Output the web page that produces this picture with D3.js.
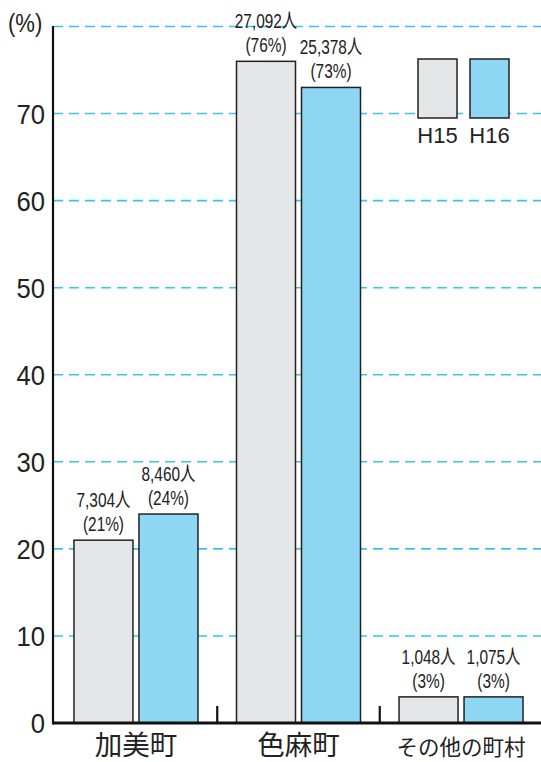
<!DOCTYPE html>
<html><head><meta charset="utf-8">
<script src="https://cdn.jsdelivr.net/npm/d3@7"></script>
<style>body{margin:0;background:#fff}svg{display:block}</style>
</head><body><svg id="c" width="541" height="762"></svg>
<script>
const categories = ["加美町", "色麻町", "その他の町村"];
const series = ["H15", "H16"];
const h15Values = [21, 76, 3];
const h16Values = [24, 73, 3];
const h15People = ["7,304人", "27,092人", "1,048人"];
const h16People = ["8,460人", "25,378人", "1,075人"];
const yTicks = [0, 10, 20, 30, 40, 50, 60, 70];
const gridTicks = [10, 20, 30, 40, 50, 60, 70, 80];

const colors = ["#e5e6e8", "#8dd7f5"];
const svg = d3.select("#c");
const W = 541;
const x0 = 53, yBase = 723;
const y = d3.scaleLinear().domain([0, 80]).range([yBase, 26.5]);
const x = d3.scaleBand().domain(categories).range([53, 544]).paddingInner(0.237).paddingOuter(0.129);
const xs = d3.scaleBand().domain(series).range([0, x.bandwidth()]).paddingInner(0.0923);
const latin = "Liberation Sans, Arial, sans-serif";

// gridlines
svg.append("g").selectAll("line").data(gridTicks).join("line")
  .attr("x1", x0).attr("x2", W).attr("y1", d => y(d)).attr("y2", d => y(d))
  .attr("stroke", "#3cc3ea").attr("stroke-width", 1.6).attr("stroke-dasharray", "10,6");

// y tick labels
svg.append("g").selectAll("text").data(yTicks).join("text")
  .attr("transform", d => `translate(45,${y(d) + 10}) scale(0.95,1)`)
  .attr("text-anchor", "end")
  .attr("font-family", latin).attr("font-size", 27).attr("fill", "#222")
  .text(d => d);
svg.append("text").attr("transform", "translate(8,31.5) scale(0.85,1)")
  .attr("font-family", latin).attr("font-size", 26).attr("fill", "#222").text("(%)");

const data = categories.map((c, i) => ({c, vals: [h15Values[i], h16Values[i]], ppl: [h15People[i], h16People[i]]}));
const groups = svg.append("g").selectAll("g").data(data).join("g")
  .attr("transform", d => `translate(${x(d.c)},0)`);
groups.selectAll("rect").data(d => d.vals.map((v, j) => ({v, s: series[j], j}))).join("rect")
  .attr("x", d => xs(d.s)).attr("width", xs.bandwidth())
  .attr("y", d => y(d.v)).attr("height", d => yBase - y(d.v))
  .attr("fill", d => colors[d.j]).attr("stroke", "#222").attr("stroke-width", 1.5);

const lab = groups.selectAll("g.lab").data(d => d.vals.map((v, j) => ({v, s: series[j], p: d.ppl[j]}))).join("g")
  .attr("class", "lab")
  .attr("transform", d => `translate(${xs(d.s) + xs.bandwidth() / 2},${y(d.v)}) scale(0.77,1)`);
lab.append("text").attr("y", -33).text(d => d.p);
lab.append("text").attr("y", -9).text(d => `(${d.v}%)`);
lab.selectAll("text").attr("text-anchor", "middle").attr("font-family", "Liberation Sans, Noto Sans CJK JP, sans-serif")
  .attr("font-size", 20).attr("fill", "#222");

// axes lines
svg.append("line").attr("x1", x0).attr("x2", x0).attr("y1", 26).attr("y2", yBase + 1.5)
  .attr("stroke", "#111").attr("stroke-width", 2.2);
svg.append("line").attr("x1", x0).attr("x2", W).attr("y1", yBase).attr("y2", yBase)
  .attr("stroke", "#111").attr("stroke-width", 3);
// separators between groups
const seps = categories.slice(0, -1).map((c, i) => (x(c) + x.bandwidth() + x(categories[i + 1])) / 2);
svg.append("g").selectAll("line").data(seps).join("line")
  .attr("x1", d => d).attr("x2", d => d).attr("y1", yBase - 17).attr("y2", yBase)
  .attr("stroke", "#111").attr("stroke-width", 2.2);

// category labels
svg.append("g").selectAll("text").data(categories).join("text")
  .attr("x", d => x(d) + x.bandwidth() / 2).attr("y", 755)
  .attr("text-anchor", "middle").attr("font-family", "Noto Sans CJK JP, sans-serif")
  .attr("font-size", (d, i) => i < 2 ? 27.5 : 21.5).attr("fill", "#222").text(d => d);

// legend
const leg = svg.append("g");
const lx = [418, 470];
series.forEach((s, j) => {
  leg.append("rect").attr("x", lx[j]).attr("y", 59).attr("width", 39).attr("height", 59)
    .attr("fill", colors[j]).attr("stroke", "#222").attr("stroke-width", 1.5);
  leg.append("text").attr("x", lx[j] + 19.5).attr("y", 143).attr("text-anchor", "middle")
    .attr("font-family", latin).attr("font-size", 22).attr("fill", "#222").text(s);
});
</script></body></html>
